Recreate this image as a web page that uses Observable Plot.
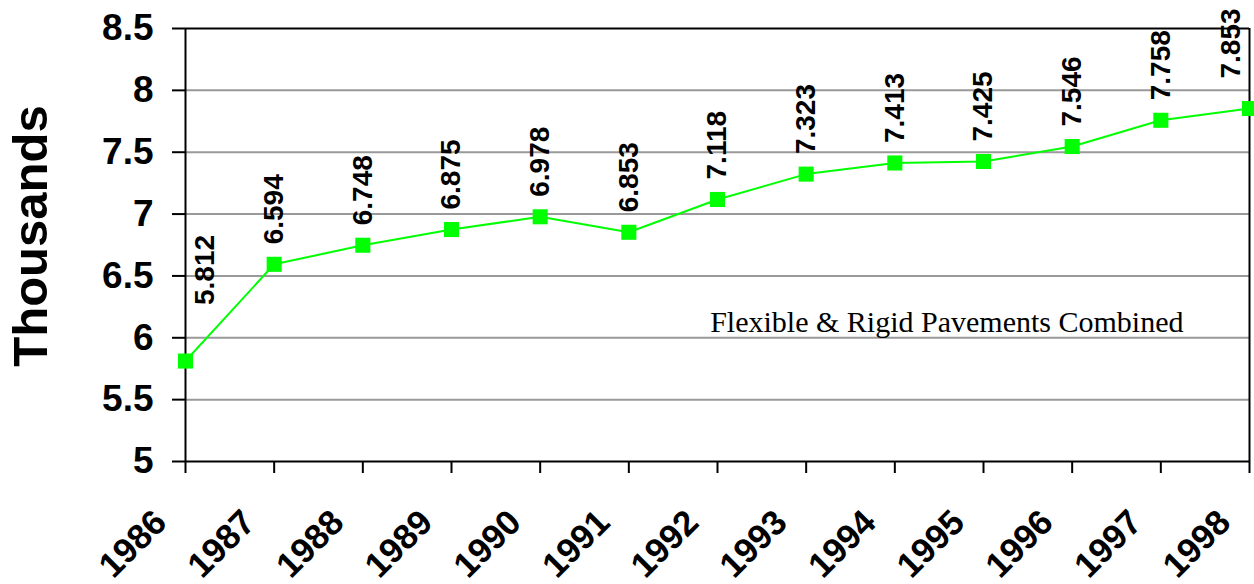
<!DOCTYPE html>
<html>
<head>
<meta charset="utf-8">
<script src="https://cdn.jsdelivr.net/npm/d3@7"></script>
<script src="https://cdn.jsdelivr.net/npm/@observablehq/plot@0.6"></script>
<style>
  html, body { margin: 0; padding: 0; background: #fff; }
  #chart svg { display: block; }
</style>
</head>
<body>
<div id="chart"></div>
<script>
const years = [1986, 1987, 1988, 1989, 1990, 1991, 1992, 1993, 1994, 1995, 1996, 1997, 1998];
const values = [5.812, 6.594, 6.748, 6.875, 6.978, 6.853, 7.118, 7.323, 7.413, 7.425, 7.546, 7.758, 7.853];
const valueLabels = ["5.812", "6.594", "6.748", "6.875", "6.978", "6.853", "7.118", "7.323", "7.413", "7.425", "7.546", "7.758", "7.853"];
const yearLabels = ["1986", "1987", "1988", "1989", "1990", "1991", "1992", "1993", "1994", "1995", "1996", "1997", "1998"];
const yTicks = [5, 5.5, 6, 6.5, 7, 7.5, 8, 8.5];
const gridTicks = [5.5, 6, 6.5, 7, 7.5, 8];
const yAxisTitle = "Thousands";
const annotation = "Flexible & Rigid Pavements Combined";

const data = years.map((year, i) => ({ year, value: values[i], label: valueLabels[i] }));
const yearData = years.map((year, i) => ({ year, label: yearLabels[i] }));
const first = years[0], last = years[years.length - 1];

const sans = "'Liberation Sans', Arial, sans-serif";
const green = "#00ff00";

const chart = Plot.plot({
  width: 1254,
  height: 584,
  marginTop: 28,
  marginBottom: 123,
  marginLeft: 185,
  marginRight: 5,
  style: { fontFamily: sans, background: "#fff", overflow: "visible" },
  x: { type: "linear", domain: [first, last] },
  y: { domain: [5, 8.5] },
  marks: [
    Plot.ruleY(gridTicks, { stroke: "#999", strokeWidth: 2 }),
    Plot.ruleY([8.5], { stroke: "#000", strokeWidth: 2 }),
    Plot.ruleX([last], { stroke: "#000", strokeWidth: 2 }),
    Plot.axisY({ ticks: yTicks, tickSize: 13, tickPadding: 19, tickFormat: d => String(d), fontSize: 37, fontWeight: "bold", stroke: "#000", strokeWidth: 2, label: null }),
    Plot.axisX({ ticks: years, tickSize: 12, tickFormat: () => "", strokeWidth: 2, label: null }),
    Plot.text(yearData, {
      x: "year", frameAnchor: "bottom", text: "label", rotate: -45, textAnchor: "end", lineAnchor: "middle",
      dx: -25, dy: 55, fontSize: 35, fontWeight: "bold", fill: "#000"
    }),
    Plot.ruleX([first], { stroke: "#000", strokeWidth: 2 }),
    Plot.ruleY([5], { stroke: "#000", strokeWidth: 2 }),
    Plot.line(data, { x: "year", y: "value", stroke: green, strokeWidth: 2 }),
    Plot.dot(data, { x: "year", y: "value", symbol: "square", fill: green, r: 8.5 }),
    Plot.text(data.filter(d => d.year !== first && d.year !== last), {
      x: "year", y: "value", text: "label", rotate: -90, textAnchor: "start", lineAnchor: "middle",
      dy: -20, fontSize: 28, fontWeight: "bold", fill: "#000"
    }),
    Plot.text(data.filter(d => d.year === first), {
      x: "year", y: "value", text: "label", rotate: -90, textAnchor: "start", lineAnchor: "middle",
      dx: 20, dy: -56, fontSize: 28, fontWeight: "bold", fill: "#000"
    }),
    Plot.text(data.filter(d => d.year === last), {
      x: "year", y: "value", text: "label", rotate: -90, textAnchor: "start", lineAnchor: "middle",
      dx: -18, dy: -30, fontSize: 28, fontWeight: "bold", fill: "#000"
    }),
    Plot.text([yAxisTitle], {
      frameAnchor: "left", text: d => d, rotate: -90, textAnchor: "middle", lineAnchor: "middle",
      dx: -154, dy: -9, fontSize: 49, fontWeight: "bold", fill: "#000"
    }),
    Plot.text([annotation], {
      frameAnchor: "top-right", text: d => d, textAnchor: "end", lineAnchor: "bottom",
      dx: -66, dy: 303, fontSize: 30, fontFamily: "'Liberation Serif', 'Times New Roman', serif", fill: "#000"
    })
  ]
});
document.getElementById("chart").appendChild(chart);
</script>
</body>
</html>
